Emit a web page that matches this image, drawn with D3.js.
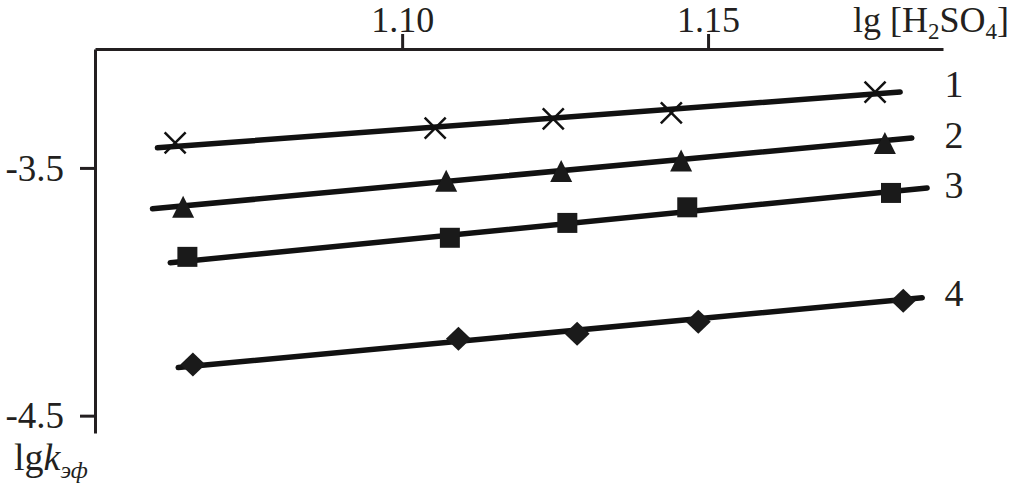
<!DOCTYPE html>
<html>
<head>
<meta charset="utf-8">
<script src="https://cdn.jsdelivr.net/npm/d3@7/dist/d3.min.js"></script>
<style>
  html, body { margin: 0; padding: 0; background: #fff; }
  svg { display: block; }
  text { font-family: "Liberation Serif", "Times New Roman", serif; fill: #231f20; }
</style>
</head>
<body>
<svg id="chart" width="1023" height="486"></svg>
<script>
// ---- data ----
const xTicks = [1.10, 1.15];
const yTicks = [-3.5, -4.5];
const seriesNames = ["1", "2", "3", "4"];
const seriesSymbols = ["x", "triangle", "square", "diamond"];

// series 1 (crosses)
const s1X = [1.0629, 1.1054, 1.1247, 1.1440, 1.1773];
const s1Y = [-3.399, -3.339, -3.302, -3.278, -3.194];
// series 2 (triangles)
const s2X = [1.0642, 1.1072, 1.1260, 1.1456, 1.1789];
const s2Y = [-3.657, -3.552, -3.512, -3.470, -3.399];
// series 3 (squares)
const s3X = [1.0649, 1.1078, 1.1270, 1.1466, 1.1799];
const s3Y = [-3.859, -3.782, -3.722, -3.659, -3.601];
// series 4 (diamonds)
const s4X = [1.0658, 1.1092, 1.1286, 1.1484, 1.1819];
const s4Y = [-4.294, -4.190, -4.169, -4.121, -4.036];

// fitted straight lines (start / end)
const fit1X = [1.0600, 1.1814], fit1Y = [-3.419, -3.194];
const fit2X = [1.0592, 1.1833], fit2Y = [-3.665, -3.379];
const fit3X = [1.0621, 1.1858], fit3Y = [-3.883, -3.581];
const fit4X = [1.0634, 1.1850], fit4Y = [-4.306, -4.024];

const xDomain = [1.0498, 1.1884];
const yDomain = [-3.02, -4.57];

// ---- build ----
const series = [
  {name: seriesNames[0], sym: seriesSymbols[0], xs: s1X, ys: s1Y, fx: fit1X, fy: fit1Y},
  {name: seriesNames[1], sym: seriesSymbols[1], xs: s2X, ys: s2Y, fx: fit2X, fy: fit2Y},
  {name: seriesNames[2], sym: seriesSymbols[2], xs: s3X, ys: s3Y, fx: fit3X, fy: fit3Y},
  {name: seriesNames[3], sym: seriesSymbols[3], xs: s4X, ys: s4Y, fx: fit4X, fy: fit4Y}
];

const ink = "#231f20";
const markFill = "#1a1a1a";
const svg = d3.select("#chart");
svg.append("rect").attr("width", 1023).attr("height", 486).attr("fill", "#fff");

const x = d3.scaleLinear().domain(xDomain).range([95, 943]);
const y = d3.scaleLinear().domain(yDomain).range([49, 433]);

// top x axis
const gx = svg.append("g").attr("transform", `translate(0,${y(yDomain[0])})`)
  .call(d3.axisTop(x).tickValues(xTicks).tickFormat(d => d.toFixed(2))
        .tickSize(15).tickSizeOuter(0).tickPadding(2));
// left y axis
const gy = svg.append("g").attr("transform", `translate(${x(xDomain[0])},0)`)
  .call(d3.axisLeft(y).tickValues(yTicks).tickFormat(d => d.toFixed(1))
        .tickSize(15).tickSizeOuter(0).tickPadding(16));

[gx, gy].forEach(g => {
  g.select(".domain").attr("stroke", ink).attr("stroke-width", 3);
  g.selectAll(".tick line").attr("stroke", ink).attr("stroke-width", 3);
  g.selectAll(".tick text").attr("font-size", 37)
    .attr("font-family", "'Liberation Serif', 'Times New Roman', serif").attr("fill", ink);
});
gx.selectAll(".tick text").attr("font-size", 36);
gy.selectAll(".tick text").attr("dy", "0.33em");

// axis titles
const xt = svg.append("text").attr("x", 853).attr("y", 32).attr("font-size", 36);
xt.append("tspan").text("lg [H");
xt.append("tspan").attr("font-size", 23).attr("dy", 7).text("2");
xt.append("tspan").attr("dy", -7).text("SO");
xt.append("tspan").attr("font-size", 23).attr("dy", 7).text("4");
xt.append("tspan").attr("dy", -7).text("]");

const yt = svg.append("text").attr("x", 14).attr("y", 470).attr("font-size", 38);
yt.append("tspan").text("lg");
yt.append("tspan").attr("font-style", "italic").text("k");
yt.append("tspan").attr("font-style", "italic").attr("font-size", 24).attr("dy", 8).text("эф");

// fitted lines
const line = d3.line().x(d => x(d[0])).y(d => y(d[1]));
svg.append("g").selectAll("path").data(series).join("path")
  .attr("d", s => line(s.fx.map((v, i) => [v, s.fy[i]])))
  .attr("fill", "none").attr("stroke", "#111").attr("stroke-width", 5.5)
  .attr("stroke-linecap", "round");

// markers
function markerPath(sym) {
  switch (sym) {
    case "x": { const r = 10.5; return `M${-r},${-r}L${r},${r}M${r},${-r}L${-r},${r}`; }
    case "triangle": { const w = 11, h = 11; return `M0,${-h}L${w},${h}L${-w},${h}Z`; }
    case "square": { const r = 10; return `M${-r},${-r}H${r}V${r}H${-r}Z`; }
    case "diamond": { const w = 12.5, h = 12; return `M0,${-h}L${w},0L0,${h}L${-w},0Z`; }
  }
}
series.forEach(s => {
  const g = svg.append("g");
  g.selectAll("path").data(s.xs.map((v, i) => [v, s.ys[i]])).join("path")
    .attr("transform", d => `translate(${x(d[0])},${y(d[1])})`)
    .attr("d", markerPath(s.sym))
    .attr("fill", s.sym === "x" ? "none" : markFill)
    .attr("stroke", s.sym === "x" ? "#111" : "none")
    .attr("stroke-width", 2.5);
});

// series labels beside the last point of each line
svg.append("g").selectAll("text").data(series).join("text")
  .attr("x", 954)
  .attr("y", s => y(s.ys[s.ys.length - 1]) - 8)
  .attr("text-anchor", "middle")
  .attr("dominant-baseline", "central")
  .attr("font-size", 38)
  .text(s => s.name);
</script>
</body>
</html>
